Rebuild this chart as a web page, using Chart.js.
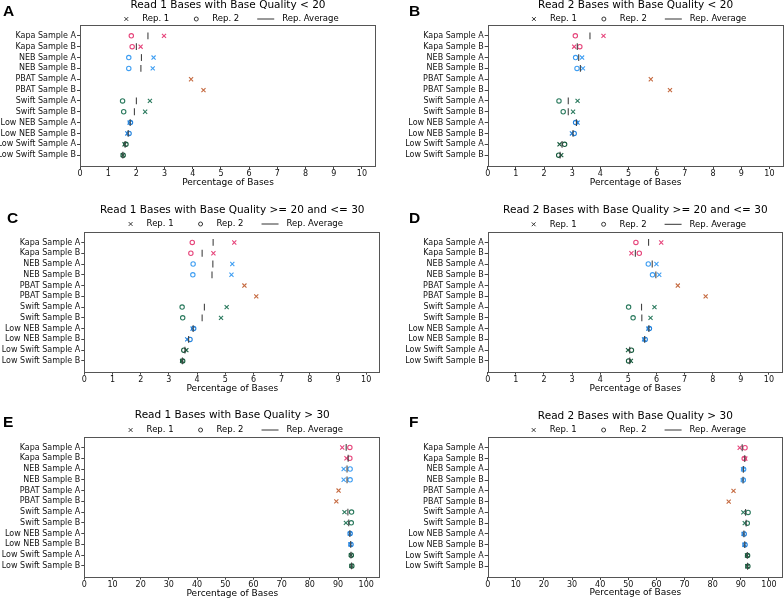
<!DOCTYPE html>
<html>
<head>
<meta charset="utf-8">
<script src="https://cdn.jsdelivr.net/npm/chart.js@4.4.1/dist/chart.umd.min.js"></script>
<style>
  html, body { margin: 0; padding: 0; background: #fff; width: 784px; height: 599px; overflow: hidden; }
  #figure { position: relative; width: 784px; height: 599px; }
  canvas { position: absolute; }
  .lettre { position: absolute; font: bold 15.5px "Liberation Sans", Arial, sans-serif; line-height: 15px; color: #000; }
</style>
</head>
<body>
<div id="figure"></div>
<script>
// --- DONNÉES ---
const categories = [
    'Kapa Sample A', 'Kapa Sample B', 'NEB Sample A', 'NEB Sample B',
    'PBAT Sample A', 'PBAT Sample B', 'Swift Sample A', 'Swift Sample B',
    'Low NEB Sample A', 'Low NEB Sample B', 'Low Swift Sample A', 'Low Swift Sample B'
];
const couleurs = ['#e6457b', '#e6457b', '#3f9ef2', '#3f9ef2', '#c56a40', '#c56a40',
    '#2b7a5e', '#2b7a5e', '#2382dc', '#2382dc', '#175c3e', '#175c3e'];

const ticksPetits = [0, 1, 2, 3, 4, 5, 6, 7, 8, 9, 10];
const ticksGrands = [0, 10, 20, 30, 40, 50, 60, 70, 80, 90, 100];

// A : Read 1, qualité < 20
const r1Bas_rep1 = [2.98, 2.15, 2.61, 2.58, 3.94, 4.38, 2.48, 2.31, 1.76, 1.68, 1.58, 1.52];
const r1Bas_rep2 = [1.82, 1.85, 1.73, 1.73, null, null, 1.51, 1.55, 1.79, 1.74, 1.63, 1.53];
const r1Bas_moy  = [2.41, 2.00, 2.18, 2.16, null, null, 2.00, 1.93, 1.78, 1.71, 1.60, 1.52];
// B : Read 2, qualité < 20
const r2Bas_rep1 = [4.11, 3.07, 3.35, 3.38, 5.79, 6.47, 3.19, 3.03, 3.19, 2.99, 2.55, 2.61];
const r2Bas_rep2 = [3.11, 3.27, 3.12, 3.17, null, null, 2.53, 2.68, 3.12, 3.07, 2.73, 2.52];
const r2Bas_moy  = [3.63, 3.18, 3.23, 3.29, null, null, 2.86, 2.86, 3.15, 3.03, 2.64, 2.57];
// C : Read 1, qualité 20-30
const r1Mid_rep1 = [5.32, 4.58, 5.25, 5.22, 5.68, 6.10, 5.05, 4.85, 3.84, 3.65, 3.62, 3.47];
const r1Mid_rep2 = [3.83, 3.78, 3.86, 3.85, null, null, 3.47, 3.49, 3.88, 3.75, 3.53, 3.49];
const r1Mid_moy  = [4.57, 4.18, 4.56, 4.53, null, null, 4.26, 4.18, 3.86, 3.70, 3.57, 3.48];
// D : Read 2, qualité 20-30
const r2Mid_rep1 = [6.17, 5.11, 6.00, 6.10, 6.76, 7.75, 5.93, 5.79, 5.71, 5.56, 4.99, 5.09];
const r2Mid_rep2 = [5.27, 5.39, 5.71, 5.86, null, null, 5.01, 5.17, 5.75, 5.60, 5.11, 5.01];
const r2Mid_moy  = [5.72, 5.25, 5.85, 5.98, null, null, 5.47, 5.48, 5.73, 5.58, 5.05, 5.05];
// E : Read 1, qualité > 30
const r1Haut_rep1 = [91.5, 93.0, 92.0, 92.0, 90.2, 89.4, 92.3, 92.8, 94.2, 94.4, 94.6, 94.8];
const r1Haut_rep2 = [94.2, 94.2, 94.3, 94.3, null, null, 94.8, 94.7, 94.3, 94.6, 94.7, 94.9];
const r1Haut_moy  = [92.9, 93.6, 93.2, 93.2, null, null, 93.5, 93.8, 94.2, 94.5, 94.6, 94.8];
// F : Read 2, qualité > 30
const r2Haut_rep1 = [89.6, 91.6, 90.8, 90.7, 87.4, 85.7, 90.9, 91.4, 91.0, 91.3, 92.2, 92.3];
const r2Haut_rep2 = [91.5, 91.2, 91.0, 90.9, null, null, 92.6, 92.3, 91.2, 91.5, 92.4, 92.5];
const r2Haut_moy  = [90.5, 91.4, 90.9, 90.8, null, null, 91.7, 91.9, 91.1, 91.4, 92.3, 92.4];

// --- PANNEAUX (géométrie en pixels de page) ---
const panneaux = [
    { lettre: 'A', lx: 3, ly: 2.5, titre: 'Read 1 Bases with Base Quality < 20', rep1: r1Bas_rep1, rep2: r1Bas_rep2, moy: r1Bas_moy,
      xMax: 10.5, ticks: ticksPetits, gauche: 0, titreY: 5, legY: 19, plotL: 80, plotR: 376, plotT: 25, plotB: 166, labelY: 183 },
    { lettre: 'B', lx: 409, ly: 2.5, titre: 'Read 2 Bases with Base Quality < 20', rep1: r2Bas_rep1, rep2: r2Bas_rep2, moy: r2Bas_moy,
      xMax: 10.5, ticks: ticksPetits, gauche: 392, titreY: 5, legY: 19, plotL: 487.7, plotR: 783.5, plotT: 25, plotB: 166, labelY: 183 },
    { lettre: 'C', lx: 7, ly: 209.5, titre: 'Read 1 Bases with Base Quality >= 20 and <= 30', rep1: r1Mid_rep1, rep2: r1Mid_rep2, moy: r1Mid_moy,
      xMax: 10.5, ticks: ticksPetits, gauche: 0, titreY: 210, legY: 224, plotL: 84.3, plotR: 380.3, plotT: 231.7, plotB: 371.7, labelY: 388.3 },
    { lettre: 'D', lx: 409, ly: 209.5, titre: 'Read 2 Bases with Base Quality >= 20 and <= 30', rep1: r2Mid_rep1, rep2: r2Mid_rep2, moy: r2Mid_moy,
      xMax: 10.5, ticks: ticksPetits, gauche: 392, titreY: 210, legY: 224.3, plotL: 487.7, plotR: 783, plotT: 231.7, plotB: 371.7, labelY: 388.3 },
    { lettre: 'E', lx: 3, ly: 414, titre: 'Read 1 Bases with Base Quality > 30', rep1: r1Haut_rep1, rep2: r1Haut_rep2, moy: r1Haut_moy,
      xMax: 105, ticks: ticksGrands, gauche: 0, titreY: 415.7, legY: 430, plotL: 84.3, plotR: 380.3, plotT: 436.7, plotB: 576.7, labelY: 593.3 },
    { lettre: 'F', lx: 409, ly: 414, titre: 'Read 2 Bases with Base Quality > 30', rep1: r2Haut_rep1, rep2: r2Haut_rep2, moy: r2Haut_moy,
      xMax: 105, ticks: ticksGrands, gauche: 392, titreY: 416, legY: 430, plotL: 487.7, plotR: 783, plotT: 437, plotB: 577, labelY: 593 }
];

const POLICE = '"DejaVu Sans", sans-serif';

// cadre complet autour de la zone de tracé
const cadre = {
    id: 'cadre',
    beforeDatasetsDraw(chart) {
        const { ctx, chartArea: a } = chart;
        ctx.save();
        ctx.strokeStyle = '#555';
        ctx.lineWidth = 1;
        ctx.strokeRect(Math.round(a.left) + 0.5, Math.round(a.top) + 0.5,
            Math.round(a.right - a.left) - 1, Math.round(a.bottom - a.top));
        ctx.restore();
    }
};

// légende façon matplotlib (marqueurs noirs)
const legendeMaison = {
    id: 'legendeMaison',
    afterDraw(chart, args, opts) {
        const { ctx, chartArea: a } = chart;
        const items = [
            { forme: 'croix', texte: 'Rep. 1' },
            { forme: 'rond', texte: 'Rep. 2' },
            { forme: 'trait', texte: 'Rep. Average' }
        ];
        ctx.save();
        ctx.font = '8.5px ' + POLICE;
        const largeurs = items.map(it => 25 + ctx.measureText(it.texte).width);
        const total = largeurs.reduce((s, w) => s + w, 0) + 18 * (items.length - 1);
        let x = (a.left + a.right) / 2 - total / 2;
        const y = a.top - opts.decalage;
        ctx.strokeStyle = '#333';
        ctx.fillStyle = '#000';
        ctx.lineWidth = 1;
        ctx.textBaseline = 'middle';
        items.forEach((it, i) => {
            ctx.beginPath();
            if (it.forme === 'croix') {
                const cx = x + 9, r = 1.9;
                ctx.moveTo(cx - r, y - r); ctx.lineTo(cx + r, y + r);
                ctx.moveTo(cx - r, y + r); ctx.lineTo(cx + r, y - r);
            } else if (it.forme === 'rond') {
                ctx.arc(x + 9, y, 2, 0, Math.PI * 2);
            } else {
                ctx.moveTo(x, y); ctx.lineTo(x + 17, y);
            }
            ctx.stroke();
            ctx.fillText(it.texte, x + 25, y);
            x += largeurs[i] + 18;
        });
        ctx.restore();
    }
};

// construit les points d'une série en sautant les valeurs absentes
const points = (serie) => {
    const data = [], cols = [];
    serie.forEach((v, i) => {
        if (v === null) return;
        data.push({ x: v, y: i });
        cols.push(couleurs[i]);
    });
    return { data, cols };
};

const figure = document.getElementById('figure');

panneaux.forEach(p => {
    const canvasTop = Math.round(p.titreY - 5.25);
    const canvasH = Math.round(p.labelY + 7.4 - canvasTop);
    const canvas = document.createElement('canvas');
    canvas.width = 392;
    canvas.height = canvasH;
    canvas.style.left = p.gauche + 'px';
    canvas.style.top = canvasTop + 'px';
    figure.appendChild(canvas);

    const lettre = document.createElement('div');
    lettre.className = 'lettre';
    lettre.textContent = p.lettre;
    lettre.style.left = p.lx + 'px';
    lettre.style.top = p.ly + 'px';
    figure.appendChild(lettre);

    const s1 = points(p.rep1), s2 = points(p.rep2), sm = points(p.moy);

    new Chart(canvas.getContext('2d'), {
        type: 'scatter',
        data: {
            datasets: [
                { label: 'Rep. Average', data: sm.data, pointStyle: 'line', pointRotation: 90, pointRadius: 3.4,
                  pointBorderWidth: 1.1, pointBorderColor: '#444', pointBackgroundColor: '#444' },
                { label: 'Rep. 2', data: s2.data, pointStyle: 'circle', pointRadius: 2.2,
                  pointBorderWidth: 1.1, pointBorderColor: s2.cols, pointBackgroundColor: 'rgba(0,0,0,0)' },
                { label: 'Rep. 1', data: s1.data, pointStyle: 'crossRot', pointRadius: 2.9,
                  pointBorderWidth: 1.1, pointBorderColor: s1.cols, pointBackgroundColor: 'rgba(0,0,0,0)' }
            ]
        },
        options: {
            responsive: false,
            animation: false,
            events: [],
            layout: {
                autoPadding: false,
                padding: { top: 0, left: 0, bottom: 0, right: p.gauche + 392 - p.plotR }
            },
            plugins: {
                legend: { display: false },
                tooltip: { enabled: false },
                title: {
                    display: true, text: p.titre, fullSize: false, color: '#000',
                    font: { family: POLICE, size: 10.5, weight: 'normal', lineHeight: 1 },
                    padding: { top: 0, bottom: p.plotT - canvasTop - 10.5 }
                },
                legendeMaison: { decalage: p.plotT - p.legY }
            },
            scales: {
                x: {
                    type: 'linear', min: 0, max: p.xMax,
                    afterBuildTicks: (axe) => { axe.ticks = p.ticks.map(v => ({ value: v })); },
                    afterFit: (axe) => { axe.height = canvasTop + canvasH - p.plotB; },
                    border: { display: false },
                    grid: { drawOnChartArea: false, drawTicks: true, tickLength: 3, color: '#444' },
                    ticks: { color: '#111', padding: 0, maxRotation: 0, autoSkip: false, font: { family: POLICE, size: 8 } },
                    title: { display: true, text: 'Percentage of Bases', color: '#000',
                             font: { family: POLICE, size: 9 }, padding: { top: 0, bottom: 2 } }
                },
                y: {
                    type: 'linear', min: -1, max: 12, reverse: true,
                    afterBuildTicks: (axe) => { axe.ticks = categories.map((c, i) => ({ value: i })); },
                    afterFit: (axe) => { axe.width = p.plotL - p.gauche; },
                    border: { display: false },
                    grid: { drawOnChartArea: false, drawTicks: true, tickLength: 3, color: '#444' },
                    ticks: { color: '#111', padding: 1, autoSkip: false, font: { family: POLICE, size: 8 },
                             callback: (v) => categories[v] }
                }
            }
        },
        plugins: [cadre, legendeMaison]
    });
});
</script>
</body>
</html>
